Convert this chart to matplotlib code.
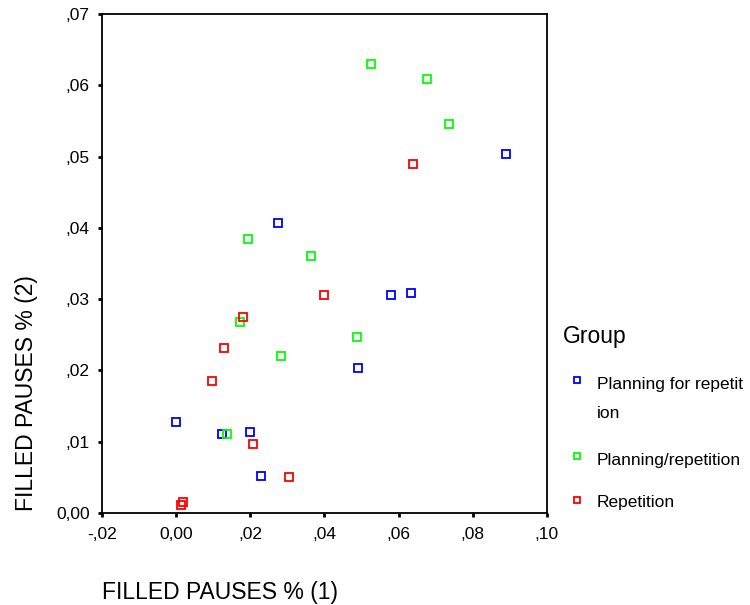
import numpy as np
import matplotlib
matplotlib.use("Agg")
import matplotlib.pyplot as plt
from matplotlib.lines import Line2D

plt.rcParams['font.family'] = ['Liberation Sans', 'DejaVu Sans']

# datos
grupos = ["Planning for repetition", "Planning/repetition", "Repetition"]
colores = ["#0000ff", "#00ff00", "#ff0000"]

plan_rep_x = [0.0891, 0.0275, 0.0580, 0.0633, 0.0491, 0.0000, 0.0124, 0.0199, 0.0230]
plan_rep_y = [0.0503, 0.0407, 0.0306, 0.0308, 0.0204, 0.0127, 0.0111, 0.0113, 0.0052]

plan_slash_x = [0.0527, 0.0678, 0.0736, 0.0194, 0.0363, 0.0173, 0.0487, 0.0283, 0.0137]
plan_slash_y = [0.0630, 0.0609, 0.0546, 0.0384, 0.0361, 0.0268, 0.0247, 0.0220, 0.0111]

rep_x = [0.0638, 0.0399, 0.0181, 0.0128, 0.0097, 0.0208, 0.0305, 0.0018, 0.0013]
rep_y = [0.0489, 0.0306, 0.0275, 0.0231, 0.0185, 0.0097, 0.0051, 0.0016, 0.0011]

x_ticks = [-0.02, 0.0, 0.02, 0.04, 0.06, 0.08, 0.10]
x_tick_labels = ["-,02", "0,00", ",02", ",04", ",06", ",08", ",10"]
y_ticks = [0.0, 0.01, 0.02, 0.03, 0.04, 0.05, 0.06, 0.07]
y_tick_labels = ["0,00", ",01", ",02", ",03", ",04", ",05", ",06", ",07"]

fig = plt.figure(figsize=(7.5, 6.05), dpi=100)
ax = fig.add_axes([0.136, 0.152, 0.593, 0.825])

series = [(plan_rep_x, plan_rep_y), (plan_slash_x, plan_slash_y), (rep_x, rep_y)]
for (xs, ys), color in zip(series, colores):
    ax.plot(xs, ys, linestyle='none', marker='s', markersize=5.2,
            markerfacecolor='none', markeredgecolor=color, markeredgewidth=1.3)

ax.set_xlim(-0.02, 0.10)
ax.set_ylim(0.0, 0.07)
ax.set_xticks(x_ticks)
ax.set_xticklabels(x_tick_labels)
ax.set_yticks(y_ticks)
ax.set_yticklabels(y_tick_labels)
ax.tick_params(direction='out', length=3, width=2, labelsize=12.5)
ax.tick_params(axis='y', pad=6)
ax.tick_params(axis='x', pad=7)
for s in ax.spines.values():
    s.set_linewidth(1.3)

fig.text(102 / 750, 1 - 592 / 605, "FILLED PAUSES % (1)", fontsize=16.5,
         ha='left', va='center')
fig.text(27 / 750, 1 - 511 / 605, "FILLED PAUSES % (2)", fontsize=16.5,
         rotation=90, ha='center', va='bottom')

# leyenda manual
fig.text(563 / 750, 1 - 336 / 605, "Group", fontsize=16.5, ha='left', va='center')
marcas_y = [380, 456, 500]
for color, my in zip(colores, marcas_y):
    fig.add_artist(Line2D([577 / 750], [1 - my / 605], transform=fig.transFigure,
                          marker='s', markersize=5, markerfacecolor='none',
                          markeredgecolor=color, markeredgewidth=1.3, linestyle='none'))
lineas_leyenda = ["Planning for repetit", "ion", "Planning/repetition", "Repetition"]
lineas_y = [384, 414, 460, 503]
for linea, ly in zip(lineas_leyenda, lineas_y):
    fig.text(597 / 750, 1 - ly / 605, linea, fontsize=12.5, ha='left', va='center')

fig.savefig("out.png", dpi=100)
